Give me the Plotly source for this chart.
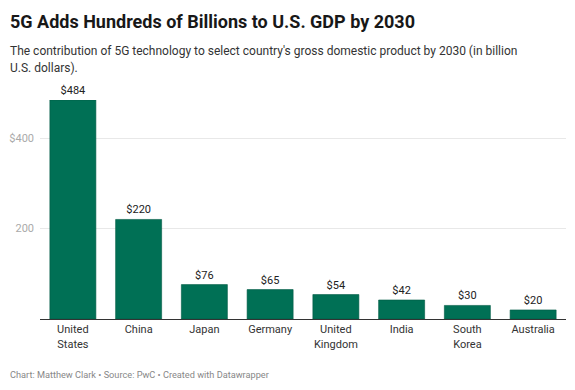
import plotly.graph_objects as go

countries = ["United<br>States", "China", "Japan", "Germany", "United<br>Kingdom", "India", "South<br>Korea", "Australia"]
values = [484, 220, 76, 65, 54, 42, 30, 20]
value_labels = ["$484", "$220", "$76", "$65", "$54", "$42", "$30", "$20"]
y_ticks = [200, 400]
y_tick_labels = ["200", "$400"]

title = "5G Adds Hundreds of Billions to U.S. GDP by 2030"
subtitle_lines = ["The contribution of 5G technology to select country's gross domestic product by 2030 (in billion",
                  "U.S. dollars)."]
footer = "Chart: Matthew Clark • Source: PwC • Created with Datawrapper"

FONT = "Roboto, 'Noto Sans', sans-serif"

W, H = 575.0, 390.0
ML, MR, MT, MB = 40, 9, 100, 71

fig = go.Figure(go.Bar(
    x=countries,
    y=values,
    text=value_labels,
    textposition="outside",
    textfont=dict(family=FONT, size=11, color="#222222"),
    cliponaxis=False,
    marker=dict(color="#007055", line=dict(width=0.6, color="#005a44")),
    hoverinfo="skip",
))

plot_w = W - ML - MR
plot_h = H - MT - MB

def px(pix_x):
    return (pix_x - ML) / plot_w

def py(pix_y):
    return (H - MB - pix_y) / plot_h

annotations = [
    dict(text=f"<b>{title}</b>", xref="paper", yref="paper", x=px(8), y=py(9),
         xanchor="left", yanchor="top", showarrow=False,
         font=dict(family=FONT, size=18, color="#181818")),
    dict(text=footer, xref="paper", yref="paper", x=px(8), y=py(382),
         xanchor="left", yanchor="bottom", showarrow=False,
         font=dict(family=FONT, size=9.2, color="#888888")),
]
for i, line in enumerate(subtitle_lines):
    annotations.append(dict(text=line, xref="paper", yref="paper", x=px(8), y=py(42 + 17 * i),
                            xanchor="left", yanchor="top", align="left", showarrow=False,
                            font=dict(family=FONT, size=12, color="#333333")))

fig.update_layout(
    width=W, height=H,
    margin=dict(l=ML, r=MR, t=MT, b=MB, autoexpand=False),
    paper_bgcolor="white", plot_bgcolor="white",
    bargap=0.3,
    showlegend=False,
    font=dict(family=FONT, size=11, color="#333333"),
    xaxis=dict(
        type="category",
        range=[-0.5, 7.5],
        automargin=False,
        showgrid=False,
        showline=True, linecolor="#333333", linewidth=1,
        ticks="", tickfont=dict(size=11, color="#333333"),
        fixedrange=True,
    ),
    yaxis=dict(
        range=[0, 484],
        automargin=False,
        tickvals=y_ticks, ticktext=y_tick_labels,
        showgrid=True, gridcolor="#e8e8e8", gridwidth=1,
        zeroline=False, showline=False, ticks="",
        tickfont=dict(size=11, color="#aaaaaa"),
        ticklabelstandoff=5,
        fixedrange=True,
    ),
    annotations=annotations,
)

fig.write_html("out.html", config={"displayModeBar": False},
               post_script="document.body.style.margin='0';document.body.style.padding='0';")
